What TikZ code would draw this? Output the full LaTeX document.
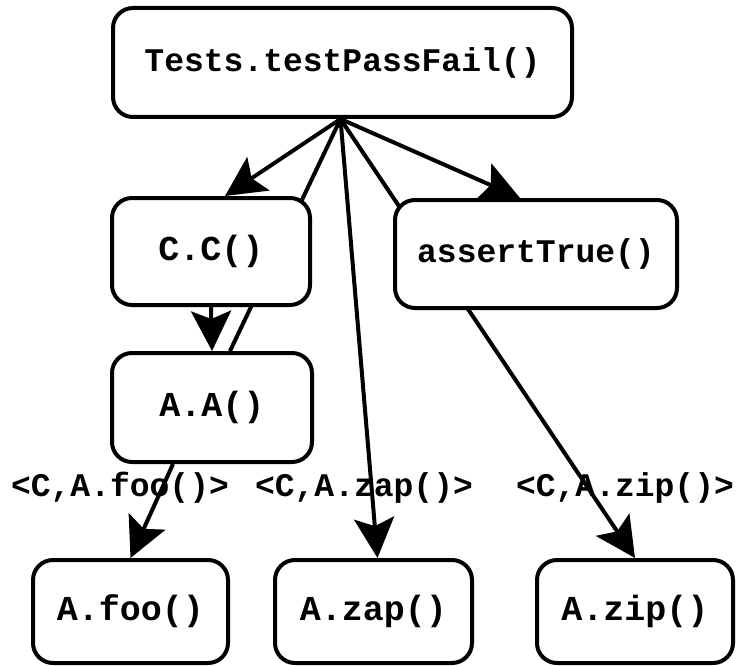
\documentclass[tikz,border=0pt]{standalone}
\usepackage{fontspec}
\setmonofont{Liberation Mono}
\usetikzlibrary{arrows.meta,backgrounds}
\begin{document}
\begin{tikzpicture}[x=1pt, y=-1pt, line cap=round, line join=round,
	>={Stealth[length=40pt,width=40pt,inset=8pt]},
	call/.style={draw, line width=4pt, rounded corners=20pt, fill=white, inner sep=0pt},
	bigtxt/.style={font=\ttfamily\bfseries\fontsize{35}{40}\selectfont},
	smalltxt/.style={font=\ttfamily\bfseries\fontsize{33}{40}\selectfont},
	flow/.style={line width=4pt}]
	\useasboundingbox (0,0) rectangle (736,666);
	% call boxes
	\node[call, smalltxt, minimum width=459pt, minimum height=109pt] (test) at (342.5,62.5) {Tests.testPassFail()};
	\node[call, bigtxt, minimum width=198pt, minimum height=107pt] (cc) at (211,251.5) {C.C()};
	\node[call, smalltxt, minimum width=282pt, minimum height=108pt] (at) at (536,254) {assertTrue()};
	\node[call, bigtxt, minimum width=200pt, minimum height=109pt] (aa) at (212,407.5) {A.A()};
	\node[call, bigtxt, minimum width=195pt, minimum height=103pt] (foo) at (130.5,611.5) {A.foo()};
	\node[call, bigtxt, minimum width=197pt, minimum height=103pt] (zap) at (373.5,611.5) {A.zap()};
	\node[call, bigtxt, minimum width=196pt, minimum height=103pt] (zip) at (635,611.5) {A.zip()};
	% edge labels
	\node[smalltxt] (lfoo) at (120,488) {<C,A.foo()>};
	\node[smalltxt] (lzap) at (364,488) {<C,A.zap()>};
	\node[smalltxt] (lzip) at (625,488) {<C,A.zip()>};
	\coordinate (hub) at ([xshift=-2pt]test.south);
	\begin{scope}[on background layer]
		\draw[flow,->] (hub) -- ([xshift=14pt]cc.north);
		\draw[flow] (hub) -- ([xshift=18pt]aa.north);
		\draw[flow,->] (hub) -- ([xshift=4pt]zap.north);
		\draw[flow,->] (hub) -- (zip.north);
		\draw[flow,->] (hub) -- ([xshift=-16pt]at.north);
		\draw[flow,->] (cc.south) -- (aa.north);
		\draw[flow,->] ([xshift=-39pt]aa.south) -- (foo.north);
	\end{scope}
\end{tikzpicture}
\end{document}
